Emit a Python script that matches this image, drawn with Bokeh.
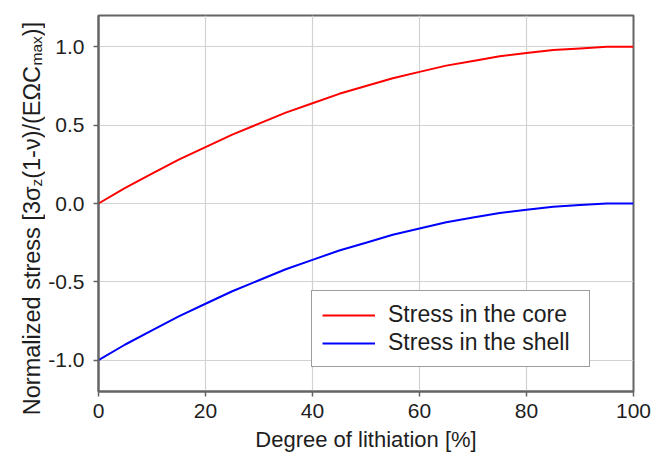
import math
from bokeh.plotting import figure
from bokeh.layouts import row
from bokeh.models import Label, Legend, LegendItem, FixedTicker, Range1d
from bokeh.embed import file_html
from bokeh.resources import INLINE

# Degree of lithiation [%] and normalized axial stress in core / shell
lithiation = [0, 5, 10, 15, 20, 25, 30, 35, 40, 45, 50,
              55, 60, 65, 70, 75, 80, 85, 90, 95, 100]
stress_core = [0.00, 0.10, 0.19, 0.28, 0.36, 0.44, 0.51, 0.58, 0.64, 0.70, 0.75,
               0.80, 0.84, 0.88, 0.91, 0.94, 0.96, 0.98, 0.99, 1.00, 1.00]
stress_shell = [-1.00, -0.90, -0.81, -0.72, -0.64, -0.56, -0.49, -0.42, -0.36, -0.30, -0.25,
                -0.20, -0.16, -0.12, -0.09, -0.06, -0.04, -0.02, -0.01, 0.00, 0.00]

x_ticks = [0, 20, 40, 60, 80, 100]
y_ticks = [-1.0, -0.5, 0.0, 0.5, 1.0]
y_tick_labels = ["-1.0", "-0.5", "0.0", "0.5", "1.0"]

FONT = "Liberation Sans"
TEXT = "#1e1e1e"
AXIS = "#646464"

W, H = 651, 462
TITLE_W = 45                 # strip holding the rotated y-axis title
FRAME_W, FRAME_H = 535, 376
LEFT, TOP = 97, 15

p = figure(width=W - TITLE_W, height=H, frame_width=FRAME_W, frame_height=FRAME_H,
           min_border_left=LEFT - TITLE_W, min_border_right=19,
           min_border_top=TOP, min_border_bottom=71,
           x_range=Range1d(0, 100), y_range=Range1d(-1.2, 1.2),
           output_backend="svg", toolbar_location=None)

p.background_fill_color = "white"
p.border_fill_color = "white"
p.outline_line_color = AXIS
p.outline_line_width = 2

for ax in (p.xaxis[0], p.yaxis[0]):
    ax.axis_line_color = AXIS
    ax.axis_line_width = 2
    ax.major_tick_line_color = AXIS
    ax.major_tick_line_width = 1.5
    ax.major_tick_in = 0
    ax.major_tick_out = 5
    ax.minor_tick_line_color = None
    ax.major_label_text_font = FONT
    ax.major_label_text_color = TEXT
    ax.major_label_text_font_size = "21px"

p.xaxis.ticker = FixedTicker(ticks=x_ticks)
p.xaxis.major_label_standoff = 7
p.xaxis.axis_label = "Degree of lithiation [%]"
p.xaxis.axis_label_text_font = FONT
p.xaxis.axis_label_text_font_size = "22px"
p.xaxis.axis_label_text_font_style = "normal"
p.xaxis.axis_label_text_color = TEXT
p.xaxis.axis_label_standoff = 6

p.yaxis.ticker = FixedTicker(ticks=y_ticks)
p.yaxis.major_label_overrides = {t: s for t, s in zip(y_ticks, y_tick_labels)}
p.yaxis.major_label_standoff = 9

p.grid.grid_line_color = "#d2d2d2"
p.grid.grid_line_width = 1.2

r_core = p.line(lithiation, stress_core, line_color="#ff0000", line_width=2)
r_shell = p.line(lithiation, stress_shell, line_color="#0000ff", line_width=2)

legend = Legend(items=[LegendItem(label="Stress in the core", renderers=[r_core]),
                       LegendItem(label="Stress in the shell", renderers=[r_shell])],
                location=(213, 24), padding=10, spacing=1, margin=0,
                glyph_width=53, glyph_height=24, label_height=24, label_width=191,
                label_standoff=13, label_text_font=FONT, label_text_font_size="23px",
                label_text_color=TEXT, border_line_color="#3c3c3c", border_line_width=1.2,
                background_fill_color="white", background_fill_alpha=1.0)
p.add_layout(legend, "center")

# Narrow strip to the left carrying the y-axis title, written in pieces so the
# subscripts can sit lower and smaller than the rest of the line
t = figure(width=TITLE_W, height=H, frame_width=TITLE_W, frame_height=H,
           x_range=Range1d(0, TITLE_W), y_range=Range1d(0, H), title=None,
           x_axis_location=None, y_axis_location=None,
           min_border=0, min_border_left=0, min_border_right=0,
           min_border_top=0, min_border_bottom=0,
           output_backend="svg", toolbar_location=None)
t.outline_line_color = None
t.grid.visible = False
t.background_fill_color = "white"
t.border_fill_color = "white"

ADV = {  # advance widths, 1/1000 em (Arial-compatible metrics)
    "N": 722, "o": 556, "r": 333, "m": 833, "a": 556, "l": 222, "i": 222, "z": 500,
    "e": 556, "d": 556, " ": 278, "s": 500, "t": 278, "[": 278, "]": 278, "3": 556,
    "σ": 617, "(": 333, ")": 333, "1": 556, "-": 333, "ν": 500, "/": 278, "E": 667,
    "Ω": 768, "C": 722, "x": 500,
}
Y_FS = 23.5
SUB_SCALE = 0.66
SUB_DROP = 4.5
pieces = [("Normalized stress [3σ", False), ("z", True), ("(1-ν)/(EΩC", False),
          ("max", True), (")]", False)]

def piece_len(txt, sub):
    fs = Y_FS * (SUB_SCALE if sub else 1.0)
    return sum(ADV.get(c, 556) for c in txt) / 1000.0 * fs

total = sum(piece_len(s, b) for s, b in pieces)
baseline_x = 31                            # px from the strip's left edge
pos = H - (TOP + FRAME_H / 2) - total / 2  # px from the strip's bottom, text runs upward
for txt, sub in pieces:
    fs = Y_FS * (SUB_SCALE if sub else 1.0)
    t.add_layout(Label(x=baseline_x + (SUB_DROP if sub else 0), y=pos,
                       x_units="data", y_units="data", text=txt, angle=math.pi / 2,
                       text_align="left", text_baseline="alphabetic",
                       text_font=FONT, text_font_size=f"{fs:.1f}px", text_color=TEXT))
    pos += piece_len(txt, sub)

layout = row(t, p, spacing=0)
open("out.html", "w").write(file_html(layout, INLINE))
